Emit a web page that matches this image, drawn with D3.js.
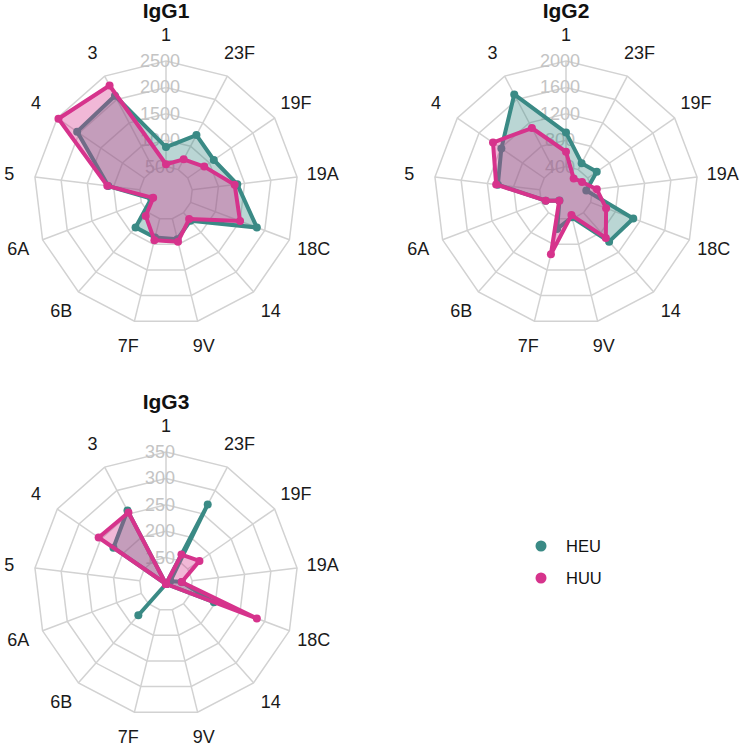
<!DOCTYPE html>
<html>
<head>
<meta charset="utf-8">
<script src="https://cdn.jsdelivr.net/npm/d3@7"></script>
<style>
  html, body { margin: 0; padding: 0; background: #ffffff; }
  svg { display: block; font-family: "Liberation Sans", Arial, sans-serif; }
</style>
</head>
<body>
<svg id="chart" width="744" height="749"></svg>
<script>
// ---- data ----
const categories = ["1","23F","19F","19A","18C","14","9V","7F","6B","6A","5","4","3"];
const groups = ["HEU","HUU"];

const igg1HEU = [870, 1240, 1100, 1360, 1840, 700, 900, 870, 870, 300, 1100, 2045, 2080];
const igg1HUU = [545, 720, 880, 1310, 1500, 660, 950, 920, 580, 260, 1120, 2475, 2300];
const igg1Ticks = [500, 1000, 1500, 2000, 2500];

const igg2HEU = [915, 510, 566, 310, 1090, 985, 380, 560, 150, 330, 1040, 1190, 1687];
const igg2HUU = [625, 250, 295, 470, 650, 910, 345, 955, 155, 328, 1066, 1344, 1112];
const igg2Ticks = [400, 800, 1200, 1600, 2000];

const igg3HEU = [100, 270, 110, 130, 197, 100, 100, 100, 179, 100, 100, 221, 257];
const igg3HUU = [100, 163, 177, 130, 284, 100, 100, 100, 100, 100, 100, 255, 253];
const igg3Ticks = [150, 200, 250, 300, 350];
const igg3Min = 100;

const panelTitles = ["IgG1", "IgG2", "IgG3"];

// ---- styles / layout ----
const colors = { HEU: "#3a8a85", HUU: "#d6338c" };
const svg = d3.select("#chart");
const R = 132;

const panels = [
  { title: panelTitles[0], cx: 166, cy: 193, ticks: igg1Ticks, min: 0, series: { HEU: igg1HEU, HUU: igg1HUU } },
  { title: panelTitles[1], cx: 566, cy: 193, ticks: igg2Ticks, min: 0, series: { HEU: igg2HEU, HUU: igg2HUU } },
  { title: panelTitles[2], cx: 166, cy: 584, ticks: igg3Ticks, min: igg3Min, series: { HEU: igg3HEU, HUU: igg3HUU } }
];

const angle = d3.scaleLinear().domain([0, categories.length]).range([0, 2 * Math.PI]);

panels.forEach(p => {
  const g = svg.append("g").attr("transform", `translate(${p.cx},${p.cy})`);
  const maxV = p.ticks[p.ticks.length - 1];
  const r = d3.scaleLinear().domain([p.min, maxV]).range([0, R]).clamp(true);

  // title
  svg.append("text")
    .attr("x", p.cx).attr("y", p.cy - 175)
    .attr("text-anchor", "middle")
    .attr("font-size", 21).attr("font-weight", "bold").attr("fill", "#111")
    .text(p.title);

  // grid rings
  const ringLine = d3.lineRadial()
    .angle((d, i) => angle(i))
    .radius(d => d)
    .curve(d3.curveLinearClosed);
  p.ticks.forEach(t => {
    g.append("path")
      .attr("d", ringLine(categories.map(() => r(t))))
      .attr("fill", "none").attr("stroke", "#d2d2d2").attr("stroke-width", 1.5);
  });
  // spokes
  categories.forEach((c, i) => {
    const a = angle(i);
    const r0 = r(p.ticks[0]), r1 = R;
    g.append("line")
      .attr("x1", r0 * Math.sin(a)).attr("y1", -r0 * Math.cos(a))
      .attr("x2", r1 * Math.sin(a)).attr("y2", -r1 * Math.cos(a))
      .attr("stroke", "#d2d2d2").attr("stroke-width", 1.5);
  });
  // tick labels
  p.ticks.forEach(t => {
    g.append("text")
      .attr("x", -6).attr("y", -r(t))
      .attr("text-anchor", "middle").attr("dominant-baseline", "central")
      .attr("font-size", 18).attr("fill", "#c4c4c4")
      .text(t);
  });
  // category labels
  categories.forEach((c, i) => {
    const a = angle(i);
    g.append("text")
      .attr("x", 158 * Math.sin(a)).attr("y", -158 * Math.cos(a))
      .attr("text-anchor", "middle").attr("dominant-baseline", "central")
      .attr("font-size", 18).attr("fill", "#1a1a1a")
      .text(c);
  });

  // series
  const line = d3.lineRadial()
    .angle((d, i) => angle(i))
    .radius(d => r(d))
    .curve(d3.curveLinearClosed);
  groups.forEach(k => {
    const vals = p.series[k];
    g.append("path")
      .attr("d", line(vals))
      .attr("fill", colors[k]).attr("fill-opacity", 0.35)
      .attr("stroke", colors[k]).attr("stroke-width", 4)
      .attr("stroke-linejoin", "round");
    g.selectAll(null).data(vals).enter().append("circle")
      .attr("cx", (d, i) => r(d) * Math.sin(angle(i)))
      .attr("cy", (d, i) => -r(d) * Math.cos(angle(i)))
      .attr("r", 4)
      .attr("fill", colors[k]);
  });
});

// legend
const legend = svg.append("g").attr("transform", "translate(541,546)");
groups.forEach((k, i) => {
  legend.append("circle").attr("cx", 0).attr("cy", i * 32).attr("r", 5.5).attr("fill", colors[k]);
  legend.append("text").attr("x", 25).attr("y", i * 32)
    .attr("dominant-baseline", "central").attr("font-size", 16.5).attr("fill", "#111")
    .text(k);
});
</script>
</body>
</html>
